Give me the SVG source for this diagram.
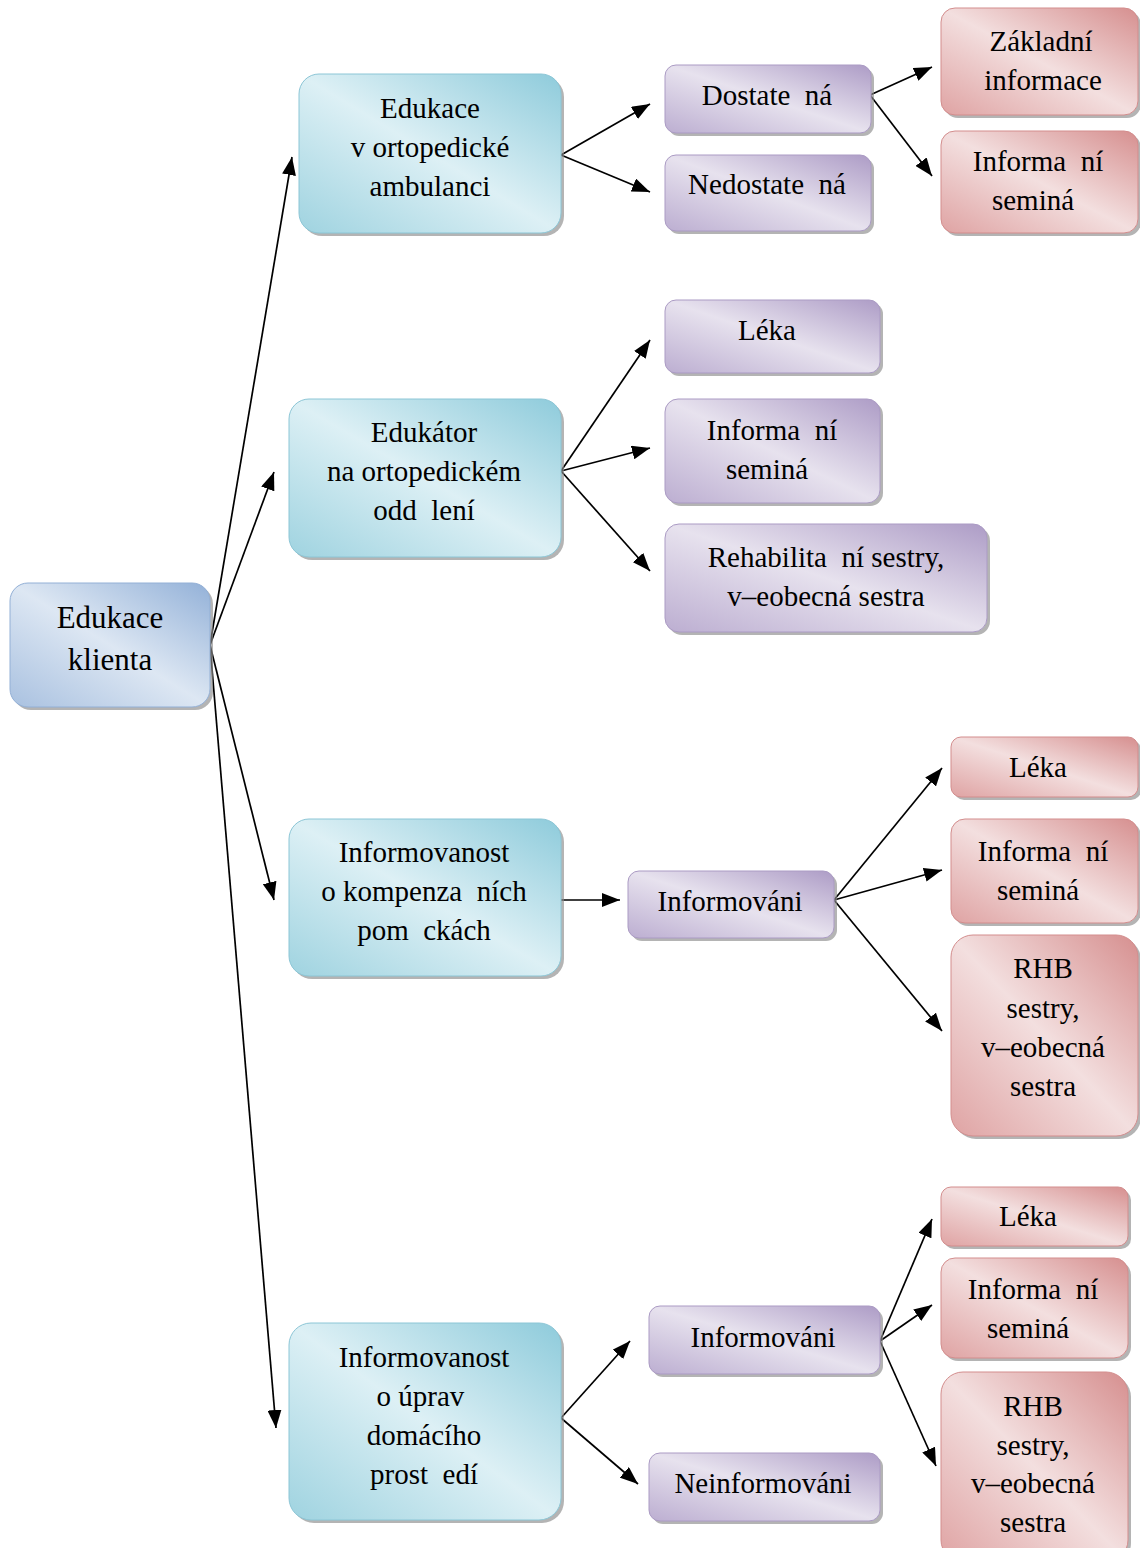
<svg xmlns="http://www.w3.org/2000/svg" width="1140" height="1548" viewBox="0 0 1140 1548">
  <defs>
    <!-- diagonal sheen: darker corners, light band across the middle -->
    <linearGradient id="gBlue" x1="1" y1="0" x2="0" y2="1">
      <stop offset="0" stop-color="#93b1d8"/>
      <stop offset="0.5" stop-color="#dde7f3"/>
      <stop offset="1" stop-color="#a9c1e0"/>
    </linearGradient>
    <linearGradient id="gTeal" x1="1" y1="0" x2="0" y2="1">
      <stop offset="0" stop-color="#8ecbdb"/>
      <stop offset="0.5" stop-color="#ddf0f5"/>
      <stop offset="1" stop-color="#9fd3e0"/>
    </linearGradient>
    <linearGradient id="gPurple" x1="1" y1="0" x2="0" y2="1">
      <stop offset="0" stop-color="#ad9cc6"/>
      <stop offset="0.5" stop-color="#e7e2ee"/>
      <stop offset="1" stop-color="#bcaed1"/>
    </linearGradient>
    <linearGradient id="gRed" x1="1" y1="0" x2="0" y2="1">
      <stop offset="0" stop-color="#d68f8f"/>
      <stop offset="0.5" stop-color="#f3dfdf"/>
      <stop offset="1" stop-color="#dfa3a3"/>
    </linearGradient>
    <marker id="arrow" markerUnits="userSpaceOnUse" markerWidth="18" markerHeight="14" refX="18" refY="7" orient="auto">
      <path d="M0,0 L18,7 L0,14 z" fill="#000"/>
    </marker>
  </defs>
  <style>
    .sh { fill: #8c8c8c; opacity: 0.65; }
    .blue { fill: url(#gBlue); stroke: #93b0d6; stroke-width: 1; }
    .teal { fill: url(#gTeal); stroke: #8cc6d6; stroke-width: 1; }
    .purple { fill: url(#gPurple); stroke: #ab9bc4; stroke-width: 1; }
    .red { fill: url(#gRed); stroke: #d38d8d; stroke-width: 1; }
    text { font-family: "Liberation Serif", "Times New Roman", serif; font-size: 29px; fill: #000; text-anchor: middle; white-space: pre; }
    .big { font-size: 31px; }
    .conn line { stroke: #000; stroke-width: 1.7; fill: none; marker-end: url(#arrow); }
  </style>

  <rect width="1140" height="1548" fill="#fff"/>

  <!-- connectors -->
  <g id="connectors" class="conn">
    <line x1="210" y1="645" x2="292" y2="157"/>
    <line x1="210" y1="645" x2="274" y2="472"/>
    <line x1="210" y1="645" x2="274" y2="900"/>
    <line x1="210" y1="645" x2="276" y2="1428"/>

    <line x1="561" y1="155" x2="650" y2="104"/>
    <line x1="561" y1="155" x2="650" y2="192"/>

    <line x1="561" y1="471" x2="650" y2="340"/>
    <line x1="561" y1="471" x2="650" y2="448"/>
    <line x1="561" y1="471" x2="650" y2="571"/>

    <line x1="561" y1="900" x2="620" y2="900"/>

    <line x1="561" y1="1418" x2="630" y2="1341"/>
    <line x1="561" y1="1418" x2="638" y2="1484"/>

    <line x1="870" y1="95" x2="932" y2="67"/>
    <line x1="870" y1="95" x2="932" y2="176"/>

    <line x1="834" y1="900" x2="942" y2="768"/>
    <line x1="834" y1="900" x2="942" y2="870"/>
    <line x1="834" y1="900" x2="942" y2="1031"/>

    <line x1="880" y1="1341" x2="932" y2="1219"/>
    <line x1="880" y1="1341" x2="932" y2="1305"/>
    <line x1="880" y1="1341" x2="936" y2="1466"/>
  </g>

  <!-- root -->
  <g id="edukace-klienta">
    <rect class="sh" x="13" y="586" width="200" height="124" rx="18"/>
    <rect class="blue" x="10" y="583" width="200" height="124" rx="18"/>
    <text class="big"><tspan x="110" y="628">Edukace</tspan><tspan x="110" y="670">klienta</tspan></text>
  </g>

  <!-- second level -->
  <g id="ambulance">
    <rect class="sh" x="302" y="77" width="262" height="159" rx="20"/>
    <rect class="teal" x="299" y="74" width="262" height="159" rx="20"/>
    <text><tspan x="430" y="118">Edukace</tspan><tspan x="430" y="157">v ortopedické</tspan><tspan x="430" y="196">ambulanci</tspan></text>
  </g>
  <g id="edukator">
    <rect class="sh" x="292" y="402" width="272" height="158" rx="20"/>
    <rect class="teal" x="289" y="399" width="272" height="158" rx="20"/>
    <text><tspan x="424" y="442">Edukátor</tspan><tspan x="424" y="481">na ortopedickém</tspan><tspan x="424" y="520">odd  lení</tspan></text>
  </g>
  <g id="kompenzacni">
    <rect class="sh" x="292" y="822" width="272" height="157" rx="20"/>
    <rect class="teal" x="289" y="819" width="272" height="157" rx="20"/>
    <text><tspan x="424" y="862">Informovanost</tspan><tspan x="424" y="901">o kompenza  ních</tspan><tspan x="424" y="940">pom  ckách</tspan></text>
  </g>
  <g id="domaci">
    <rect class="sh" x="292" y="1326" width="272" height="197" rx="22"/>
    <rect class="teal" x="289" y="1323" width="272" height="197" rx="22"/>
    <text><tspan x="424" y="1367">Informovanost</tspan><tspan x="424" y="1406">o úprav </tspan><tspan x="424" y="1445">domácího</tspan><tspan x="424" y="1484">prost  edí</tspan></text>
  </g>

  <!-- third level -->
  <g id="dostatecna">
    <rect class="sh" x="668" y="68" width="206" height="68" rx="11"/>
    <rect class="purple" x="665" y="65" width="206" height="68" rx="11"/>
    <text><tspan x="767" y="105">Dostate  ná</tspan></text>
  </g>
  <g id="nedostatecna">
    <rect class="sh" x="668" y="158" width="206" height="76" rx="11"/>
    <rect class="purple" x="665" y="155" width="206" height="76" rx="11"/>
    <text><tspan x="767" y="194">Nedostate  ná</tspan></text>
  </g>
  <g id="lekar-b">
    <rect class="sh" x="668" y="303" width="215" height="73" rx="11"/>
    <rect class="purple" x="665" y="300" width="215" height="73" rx="11"/>
    <text><tspan x="767" y="340">Léka</tspan></text>
  </g>
  <g id="seminar-b">
    <rect class="sh" x="668" y="402" width="215" height="104" rx="13"/>
    <rect class="purple" x="665" y="399" width="215" height="104" rx="13"/>
    <text><tspan x="772" y="440">Informa  ní</tspan><tspan x="767" y="479">seminá</tspan></text>
  </g>
  <g id="sestry-b">
    <rect class="sh" x="668" y="527" width="322" height="108" rx="14"/>
    <rect class="purple" x="665" y="524" width="322" height="108" rx="14"/>
    <text><tspan x="826" y="567">Rehabilita  ní sestry,</tspan><tspan x="826" y="606">v–eobecná sestra</tspan></text>
  </g>
  <g id="informovani-c">
    <rect class="sh" x="631" y="874" width="206" height="67" rx="11"/>
    <rect class="purple" x="628" y="871" width="206" height="67" rx="11"/>
    <text><tspan x="730" y="911">Informováni</tspan></text>
  </g>
  <g id="informovani-d">
    <rect class="sh" x="652" y="1309" width="231" height="68" rx="11"/>
    <rect class="purple" x="649" y="1306" width="231" height="68" rx="11"/>
    <text><tspan x="763" y="1347">Informováni</tspan></text>
  </g>
  <g id="neinformovani">
    <rect class="sh" x="652" y="1456" width="231" height="68" rx="11"/>
    <rect class="purple" x="649" y="1453" width="231" height="68" rx="11"/>
    <text><tspan x="763" y="1493">Neinformováni</tspan></text>
  </g>

  <!-- fourth level -->
  <g id="zakladni">
    <rect class="sh" x="944" y="11" width="197" height="107" rx="14"/>
    <rect class="red" x="941" y="8" width="197" height="107" rx="14"/>
    <text><tspan x="1041" y="51">Základní</tspan><tspan x="1043" y="90">informace</tspan></text>
  </g>
  <g id="seminar-a">
    <rect class="sh" x="944" y="134" width="197" height="102" rx="14"/>
    <rect class="red" x="941" y="131" width="197" height="102" rx="14"/>
    <text><tspan x="1038" y="171">Informa  ní</tspan><tspan x="1033" y="210">seminá</tspan></text>
  </g>
  <g id="lekar-c">
    <rect class="sh" x="954" y="740" width="187" height="60" rx="10"/>
    <rect class="red" x="951" y="737" width="187" height="60" rx="10"/>
    <text><tspan x="1038" y="777">Léka</tspan></text>
  </g>
  <g id="seminar-c">
    <rect class="sh" x="954" y="822" width="187" height="104" rx="14"/>
    <rect class="red" x="951" y="819" width="187" height="104" rx="14"/>
    <text><tspan x="1043" y="861">Informa  ní</tspan><tspan x="1038" y="900">seminá</tspan></text>
  </g>
  <g id="sestry-c">
    <rect class="sh" x="954" y="938" width="187" height="201" rx="22"/>
    <rect class="red" x="951" y="935" width="187" height="201" rx="22"/>
    <text><tspan x="1043" y="978">RHB</tspan><tspan x="1043" y="1018">sestry,</tspan><tspan x="1043" y="1057">v–eobecná</tspan><tspan x="1043" y="1096">sestra</tspan></text>
  </g>
  <g id="lekar-d">
    <rect class="sh" x="944" y="1190" width="187" height="59" rx="10"/>
    <rect class="red" x="941" y="1187" width="187" height="59" rx="10"/>
    <text><tspan x="1028" y="1226">Léka</tspan></text>
  </g>
  <g id="seminar-d">
    <rect class="sh" x="944" y="1261" width="187" height="100" rx="14"/>
    <rect class="red" x="941" y="1258" width="187" height="100" rx="14"/>
    <text><tspan x="1033" y="1299">Informa  ní</tspan><tspan x="1028" y="1338">seminá</tspan></text>
  </g>
  <g id="sestry-d">
    <rect class="sh" x="944" y="1375" width="187" height="190" rx="22"/>
    <rect class="red" x="941" y="1372" width="187" height="190" rx="22"/>
    <text><tspan x="1033" y="1416">RHB</tspan><tspan x="1033" y="1455">sestry,</tspan><tspan x="1033" y="1493">v–eobecná</tspan><tspan x="1033" y="1532">sestra</tspan></text>
  </g>
</svg>
